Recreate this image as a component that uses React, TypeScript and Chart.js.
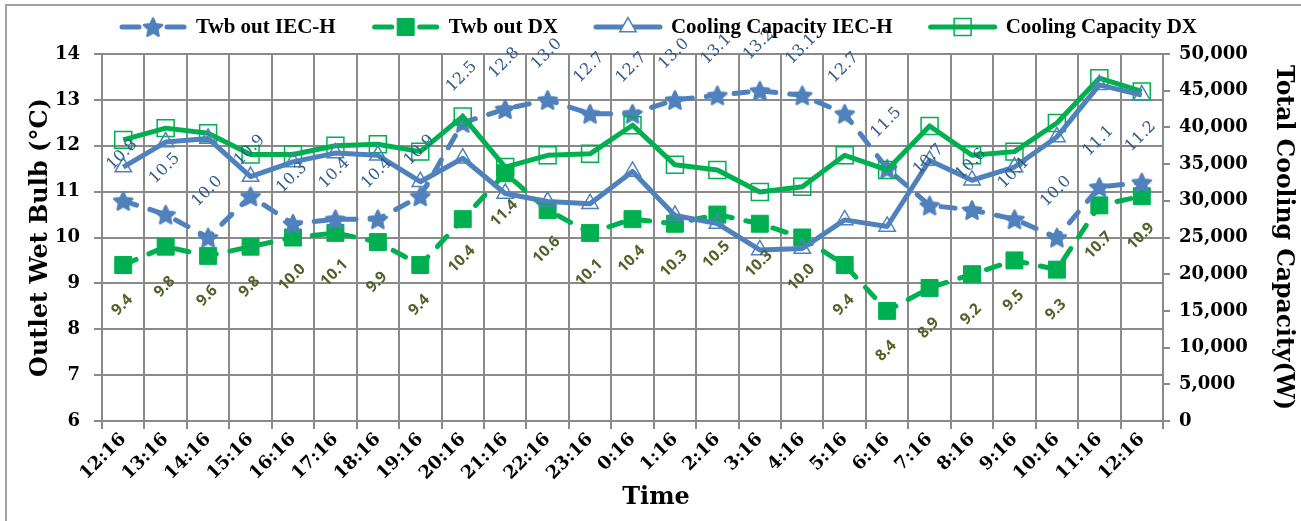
import React, { useEffect, useRef } from 'react';
import { Chart, registerables } from 'chart.js';
Chart.register(...registerables);

const timeLabels = ['12:16','13:16','14:16','15:16','16:16','17:16','18:16','19:16','20:16','21:16','22:16','23:16','0:16','1:16','2:16','3:16','4:16','5:16','6:16','7:16','8:16','9:16','10:16','11:16','12:16'];
const twbIecH = [10.8,10.5,10.0,10.9,10.3,10.4,10.4,10.9,12.5,12.8,13.0,12.7,12.7,13.0,13.1,13.2,13.1,12.7,11.5,10.7,10.6,10.4,10.0,11.1,11.2];
const twbDx = [9.4,9.8,9.6,9.8,10.0,10.1,9.9,9.4,10.4,11.4,10.6,10.1,10.4,10.3,10.5,10.3,10.0,9.4,8.4,8.9,9.2,9.5,9.3,10.7,10.9];
const capIecH = [34600,38000,38500,33300,35300,36500,36200,32600,35800,31000,29900,29600,34000,28000,26900,23300,23500,27400,26500,35500,32800,34600,38700,45800,44400];
const capDx = [38300,39900,39200,36300,36300,37500,37700,36700,41500,34600,36200,36400,40300,34900,34200,31200,31900,36200,34200,40200,36200,36700,40600,46700,44900];
const seriesNames = ['Twb out IEC-H','Twb out DX','Cooling Capacity IEC-H','Cooling Capacity DX'];
const leftTitle = 'Outlet Wet Bulb (°C)';
const rightTitle = 'Total Cooling Capacity(W)';
const xTitle = 'Time';

const BLUE = '#4f81bd';
const GREEN = '#00b050';
const GRID = '#8a8a8a';

function makeStar(color: string) {
  const c = document.createElement('canvas');
  c.width = 22; c.height = 22;
  const ctx = c.getContext('2d')!;
  ctx.beginPath();
  for (let i = 0; i < 10; i++) {
    const r = i % 2 === 0 ? 9.5 : 4.5;
    const a = -Math.PI / 2 + (i * Math.PI) / 5;
    ctx.lineTo(11 + r * Math.cos(a), 12 + r * Math.sin(a));
  }
  ctx.closePath();
  ctx.fillStyle = color; ctx.fill();
  ctx.lineWidth = 2.5; ctx.lineJoin = 'round'; ctx.strokeStyle = color; ctx.stroke();
  return c;
}

function drawMarker(ctx: CanvasRenderingContext2D, ds: any, x: number, y: number) {
  const ps = ds.pointStyle;
  ctx.save();
  if (ps instanceof HTMLCanvasElement) {
    ctx.drawImage(ps, x - ps.width / 2, y - ps.height / 2);
  } else if (ps === 'rect') {
    const s = Math.SQRT1_2 * ds.pointRadius;
    ctx.beginPath(); ctx.rect(x - s, y - s, 2 * s, 2 * s);
    ctx.fillStyle = ds.pointBackgroundColor; ctx.fill();
    ctx.lineWidth = ds.pointBorderWidth; ctx.strokeStyle = ds.pointBorderColor; ctx.stroke();
  } else if (ps === 'triangle') {
    const r = ds.pointRadius;
    ctx.beginPath();
    for (let i = 0; i < 3; i++) {
      const a = -Math.PI / 2 + (i * 2 * Math.PI) / 3;
      ctx.lineTo(x + r * Math.cos(a), y + r * Math.sin(a));
    }
    ctx.closePath();
    ctx.fillStyle = '#ffffff'; ctx.fill();
    ctx.lineWidth = ds.pointBorderWidth; ctx.strokeStyle = ds.pointBorderColor; ctx.stroke();
  }
  ctx.restore();
}

const framePlugin = {
  id: 'frame',
  beforeDraw(chart: any) {
    const { ctx, width, height } = chart;
    ctx.save();
    ctx.fillStyle = '#ffffff';
    ctx.fillRect(0, 0, width, height);
    ctx.strokeStyle = '#a0a0a0';
    ctx.lineWidth = 2;
    ctx.beginPath();
    ctx.moveTo(6, height);
    ctx.lineTo(6, 5);
    ctx.lineTo(width, 5);
    ctx.stroke();
    ctx.restore();
  },
};

const legendPlugin = {
  id: 'customLegend',
  afterDraw(chart: any) {
    const ctx: CanvasRenderingContext2D = chart.ctx;
    const dss = chart.data.datasets;
    ctx.save();
    ctx.font = 'bold 21px "Liberation Serif"';
    const sample = 68, gap = 9, spacing = 36;
    const widths = dss.map((d: any) => ctx.measureText(d.label).width);
    const total = widths.reduce((a: number, w: number) => a + sample + gap + w, 0) + spacing * (dss.length - 1);
    let x = 658 - total / 2;
    const y = 27;
    dss.forEach((ds: any, i: number) => {
      ctx.save();
      ctx.strokeStyle = ds.borderColor;
      ctx.lineWidth = ds.borderWidth;
      ctx.lineCap = 'round';
      ctx.beginPath();
      if (ds.borderDash && ds.borderDash.length) {
        ctx.moveTo(x + 3, y); ctx.lineTo(x + 20, y);
        ctx.moveTo(x + sample - 20, y); ctx.lineTo(x + sample - 3, y);
      } else {
        ctx.moveTo(x + 2, y); ctx.lineTo(x + sample - 2, y);
      }
      ctx.stroke();
      ctx.restore();
      drawMarker(ctx, ds, x + sample / 2, y);
      ctx.fillStyle = '#000000';
      ctx.textAlign = 'left';
      ctx.textBaseline = 'middle';
      ctx.fillText(ds.label, x + sample + gap, y + 1);
      x += sample + gap + widths[i] + spacing;
    });
    ctx.restore();
  },
};

const valueLabelPlugin = {
  id: 'valueLabels',
  afterDatasetsDraw(chart: any) {
    const ctx: CanvasRenderingContext2D = chart.ctx;
    const specs = [
      { idx: 0, off: -46, font: '16px "DejaVu Serif"', color: '#2c5a8e' },
      { idx: 1, off: 40, font: 'bold 15.5px "Open Sans"', color: '#4f6228' },
    ];
    specs.forEach((s) => {
      const meta = chart.getDatasetMeta(s.idx);
      const data = chart.data.datasets[s.idx].data;
      meta.data.forEach((pt: any, j: number) => {
        ctx.save();
        ctx.translate(pt.x - 1, pt.y + s.off);
        ctx.rotate(-Math.PI / 4);
        ctx.font = s.font;
        ctx.fillStyle = s.color;
        ctx.textAlign = 'center';
        ctx.textBaseline = 'middle';
        ctx.fillText(Number(data[j]).toFixed(1), 0, 0);
        ctx.restore();
      });
    });
  },
};

const xTitlePlugin = {
  id: 'xTitle',
  afterDraw(chart: any) {
    const ctx: CanvasRenderingContext2D = chart.ctx;
    ctx.save();
    ctx.font = 'bold 24px "DejaVu Serif"';
    ctx.fillStyle = '#000000';
    ctx.textAlign = 'center';
    ctx.textBaseline = 'middle';
    ctx.fillText(xTitle, 656, 498);
    ctx.restore();
  },
};

export default function App() {
  const ref = useRef<HTMLCanvasElement | null>(null);
  useEffect(() => {
    document.body.style.margin = '0';
    const star = makeStar(BLUE);
    const tickFont = { family: '"DejaVu Serif"', size: 18, weight: 'bold' as const };
    const leftTitleFont = { family: '"DejaVu Serif"', size: 24, weight: 'bold' as const };
    const rightTitleFont = { family: '"DejaVu Serif"', size: 23.5, weight: 'bold' as const };
    const chart = new Chart(ref.current!, {
      type: 'line',
      data: {
        labels: timeLabels,
        datasets: [
          {
            label: seriesNames[0], data: twbIecH, yAxisID: 'y', order: 2,
            borderColor: BLUE, borderWidth: 5, borderDash: [14, 14], borderCapStyle: 'round',
            pointStyle: star as any, pointRadius: 10, pointBackgroundColor: BLUE, pointBorderColor: BLUE,
          },
          {
            label: seriesNames[1], data: twbDx, yAxisID: 'y', order: 2,
            borderColor: GREEN, borderWidth: 5, borderDash: [14, 14], borderCapStyle: 'round',
            pointStyle: 'rect', pointRadius: 12, pointBackgroundColor: GREEN, pointBorderColor: GREEN, pointBorderWidth: 1,
          },
          {
            label: seriesNames[2], data: capIecH, yAxisID: 'y1', order: 1,
            borderColor: BLUE, borderWidth: 5, borderJoinStyle: 'round',
            pointStyle: 'triangle', pointRadius: 9.5, pointBackgroundColor: 'rgba(0,0,0,0)', pointBorderColor: BLUE, pointBorderWidth: 1.5,
          },
          {
            label: seriesNames[3], data: capDx, yAxisID: 'y1', order: 1,
            borderColor: GREEN, borderWidth: 5, borderJoinStyle: 'round',
            pointStyle: 'rect', pointRadius: 12, pointBackgroundColor: 'rgba(0,0,0,0)', pointBorderColor: GREEN, pointBorderWidth: 1.5,
          },
        ] as any,
      },
      options: {
        animation: false,
        responsive: false,
        devicePixelRatio: 1,
        layout: { padding: { top: 54, left: 0, right: 0, bottom: 0 } },
        plugins: { legend: { display: false }, tooltip: { enabled: false } },
        elements: { line: { tension: 0 } },
        scales: {
          x: {
            type: 'category',
            offset: true,
            grid: { offset: true, color: GRID, lineWidth: 2, tickLength: 8, drawTicks: true },
            border: { color: GRID, width: 2 },
            ticks: { font: tickFont, color: '#000', maxRotation: 45, minRotation: 45, autoSkip: false, padding: 0 },
            afterFit: (s: any) => { s.height = 100; },
          },
          y: {
            position: 'left', min: 6, max: 14,
            ticks: { stepSize: 1, font: tickFont, color: '#000', padding: 14 },
            grid: { color: GRID, lineWidth: 2, tickLength: 8 },
            border: { color: GRID, width: 2 },
            title: { display: true, text: leftTitle, font: leftTitleFont, color: '#000', padding: { top: 26, bottom: 0 } },
            afterFit: (s: any) => { s.width = 102; },
          },
          y1: {
            position: 'right', min: 0, max: 50000,
            ticks: {
              stepSize: 5000, font: tickFont, color: '#000', padding: 9,
              callback: (v: any) => Number(v).toLocaleString('en-US'),
            },
            grid: { drawOnChartArea: false, color: GRID, lineWidth: 2, tickLength: 7 },
            border: { color: GRID, width: 2 },
            title: { display: true, text: rightTitle, font: rightTitleFont, color: '#000', padding: { top: 4, bottom: 0 } },
            afterFit: (s: any) => { s.width = 138; },
          },
        },
      } as any,
      plugins: [framePlugin, valueLabelPlugin, legendPlugin, xTitlePlugin],
    });
    return () => chart.destroy();
  }, []);
  return (
    <div style={{ width: 1301, height: 521, position: 'relative', background: '#fff' }}>
      <canvas ref={ref} width={1301} height={521} style={{ display: 'block' }} />
    </div>
  );
}
